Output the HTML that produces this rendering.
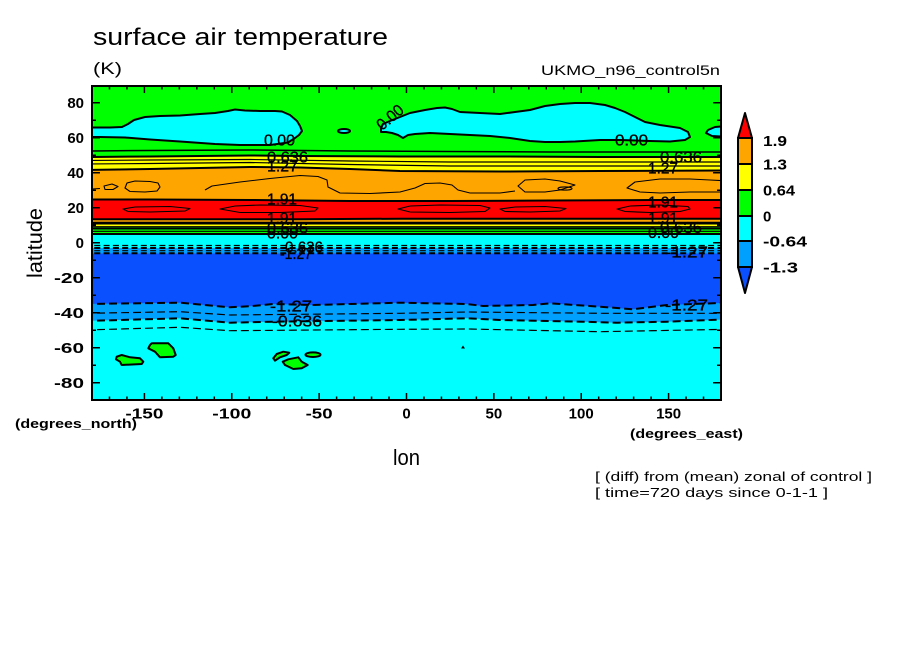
<!DOCTYPE html>
<html><head><meta charset="utf-8"><style>
html,body{margin:0;padding:0;background:#fff;}
svg{display:block;}
text{font-family:"Liberation Sans",sans-serif;fill:#000;}
.t{font-size:15px;font-weight:bold;}
.c{font-size:16px;stroke:#000;stroke-width:0.35px;}
</style></head><body>
<svg width="904" height="654" viewBox="0 0 904 654" xmlns="http://www.w3.org/2000/svg">
<defs><clipPath id="cp"><rect x="92" y="86" width="629" height="314"/></clipPath></defs>

<text x="93" y="45" style="font-size:24px" textLength="295" lengthAdjust="spacingAndGlyphs">surface air temperature</text>
<text x="93" y="74" style="font-size:17px" textLength="29" lengthAdjust="spacingAndGlyphs">(K)</text>
<text x="541" y="75" style="font-size:14px" textLength="179" lengthAdjust="spacingAndGlyphs">UKMO_n96_control5n</text>
<text x="595" y="481" style="font-size:13px" textLength="277" lengthAdjust="spacingAndGlyphs">[ (diff) from (mean) zonal of control ]</text>
<text x="595" y="497" style="font-size:13px" textLength="233" lengthAdjust="spacingAndGlyphs">[ time=720 days since 0-1-1 ]</text>
<text x="15" y="428" style="font-size:13px;font-weight:bold" textLength="122" lengthAdjust="spacingAndGlyphs">(degrees_north)</text>
<text x="630" y="438" style="font-size:13px;font-weight:bold" textLength="113" lengthAdjust="spacingAndGlyphs">(degrees_east)</text>
<text x="393" y="465" style="font-size:22px" textLength="27" lengthAdjust="spacingAndGlyphs">lon</text>
<text x="42" y="278" transform="rotate(-90 42 278)" style="font-size:21px" textLength="70" lengthAdjust="spacingAndGlyphs">latitude</text>

<text class="t" x="84" y="108" text-anchor="end">80</text>
<text class="t" x="84" y="143" text-anchor="end">60</text>
<text class="t" x="84" y="178" text-anchor="end">40</text>
<text class="t" x="84" y="213" text-anchor="end">20</text>
<text class="t" x="84" y="248" text-anchor="end">0</text>
<text class="t" x="54" y="283" textLength="30" lengthAdjust="spacingAndGlyphs">-20</text>
<text class="t" x="54" y="318" textLength="30" lengthAdjust="spacingAndGlyphs">-40</text>
<text class="t" x="54" y="353" textLength="30" lengthAdjust="spacingAndGlyphs">-60</text>
<text class="t" x="54" y="388" textLength="30" lengthAdjust="spacingAndGlyphs">-80</text>

<text class="t" x="125.4" y="418.5" textLength="38" lengthAdjust="spacingAndGlyphs">-150</text>
<text class="t" x="212.3" y="418.5" textLength="39" lengthAdjust="spacingAndGlyphs">-100</text>
<text class="t" x="305.6" y="418.5" textLength="27" lengthAdjust="spacingAndGlyphs">-50</text>
<text class="t" x="406.5" y="418.5" text-anchor="middle">0</text>
<text class="t" x="493.9" y="418.5" text-anchor="middle">50</text>
<text class="t" x="581.2" y="418.5" text-anchor="middle">100</text>
<text class="t" x="668.6" y="418.5" text-anchor="middle">150</text>

<polygon points="745,113 752,138 738,138" fill="#ff0000" stroke="#000" stroke-width="2" stroke-linejoin="round"/>
<rect x="738" y="138" width="14" height="26" fill="#ffa500" stroke="#000" stroke-width="2"/>
<rect x="738" y="164" width="14" height="26" fill="#ffff00" stroke="#000" stroke-width="2"/>
<rect x="738" y="190" width="14" height="26" fill="#00ff00" stroke="#000" stroke-width="2"/>
<rect x="738" y="216" width="14" height="25" fill="#00ffff" stroke="#000" stroke-width="2"/>
<rect x="738" y="241" width="14" height="26" fill="#00a0ff" stroke="#000" stroke-width="2"/>
<polygon points="738,267 752,267 745,293" fill="#0a50ff" stroke="#000" stroke-width="2" stroke-linejoin="round"/>
<text class="t" x="763" y="146" textLength="24" lengthAdjust="spacingAndGlyphs">1.9</text>
<text class="t" x="763" y="169.5" textLength="24" lengthAdjust="spacingAndGlyphs">1.3</text>
<text class="t" x="763" y="195.5" textLength="32" lengthAdjust="spacingAndGlyphs">0.64</text>
<text class="t" x="763" y="221.5">0</text>
<text class="t" x="763" y="246.5" textLength="44" lengthAdjust="spacingAndGlyphs">-0.64</text>
<text class="t" x="763" y="272.5" textLength="35" lengthAdjust="spacingAndGlyphs">-1.3</text>

<g clip-path="url(#cp)">
<rect x="85" y="80" width="650" height="330" fill="#00ffff"/>
<polygon fill="#00a0ff" points="85,80 85,321 180,318.3 230,322.7 273,321.7 400,320 467,318.3 500,320 583,321.7 617,322.7 667,321.7 728,319.3 728,80"/>
<polygon fill="#0a50ff" points="85,80 85,304 180,302.7 230,307.3 253,306 273,304 313,305 400,302.7 467,304 483,306 533,305 550,303.3 600,306.7 633,309.3 667,305 728,302.7 728,80"/>
<rect x="85" y="80" width="650" height="173.5" fill="#00a0ff"/>
<rect x="85" y="80" width="650" height="168" fill="#00ffff"/>
<rect x="85" y="80" width="650" height="154" fill="#00ff00"/>
<rect x="85" y="80" width="650" height="147" fill="#ffff00"/>
<rect x="85" y="80" width="650" height="143" fill="#ffa500"/>
<rect x="85" y="80" width="650" height="139.3" fill="#ff0000"/>
<polygon fill="#ffa500" points="85,80 85,199.5 150,199.5 250,200 350,201 450,201 550,200.5 650,200 728,200 728,80"/>
<polygon fill="#ffff00" points="85,80 85,170 150,169 250,167 300,167.5 350,169 400,171 500,171.5 600,171 728,170.5 728,80"/>
<polygon fill="#00ff00" points="85,80 85,157 150,156.5 250,155.5 300,156 400,156.5 500,156.5 600,157 728,157 728,80"/>

<g fill="#00ffff" stroke="#000" stroke-width="2" stroke-linejoin="round">
<polygon points="85,127.5 110,127.5 122,127 128,124 134,120 145,117 160,116 180,115.5 200,114 215,113 228,111 235,109.5 245,110.5 260,111 275,111 282,111.5 290,115 297,121 300,126 302,131 299,135 295,138 288,142.5 270,145 240,145 215,144 180,141.5 150,139.5 125,137.5 100,137 85,137"/>
<polygon points="381,128 383,124 390,121 400,117 410,113 425,110 437,108 445,107.5 452,109 460,112 480,113 500,114 515,112 530,110 545,106 560,104 575,103 590,103 605,105 615,108 625,112 635,117 645,122 660,125 680,128 688,132 690,137 685,140 670,141.5 650,141 620,140 600,140 575,141.5 560,142 545,142 530,141 510,138 490,136 470,135 450,134 430,133 415,134 408,135 403,138 398,135 392,133 386,132 381,132"/>
<polygon points="728,126 715,127 708,130 706,133 712,136 728,137"/>
<ellipse cx="344" cy="131" rx="6" ry="2"/>
</g>

<g fill="#00ff00" stroke="#000" stroke-width="2" stroke-linejoin="round">
<polygon points="116.7,356.7 121.7,355 130,357.3 140,358.3 143.3,361.7 141.7,364 121.7,365 120,361.7 116,359.3"/>
<polygon points="151.7,343.3 168.3,343.3 173.3,348.3 175.7,355 173.3,356.7 160,357.3 155,351.7 148.3,348.3 150,345"/>
<polygon points="273.3,358.3 276.7,354 283.3,351.7 289.3,352.7 286.7,355 280,357.3 275,360.7"/>
<polygon points="282.7,361.7 288.3,359.3 298.3,357.3 301.7,361.7 307.7,365 301.7,368.3 293.3,369 285,365"/>
<ellipse cx="313" cy="354.7" rx="7.5" ry="2.3"/>
</g>
<polygon points="461,348.5 463,345.5 465,348.5" fill="#000"/>

<g fill="none" stroke="#000" stroke-linejoin="round">
<polyline stroke-width="1.5" points="85,151 150,150.5 250,150 350,151 450,151.5 550,152 650,152 728,152"/>
<polyline stroke-width="2" points="85,157 150,156.5 250,155.5 300,156 400,156.5 500,156.5 600,157 728,157"/>
<polyline stroke-width="1.2" points="85,160.5 150,160 250,159.5 350,161 450,162 550,162 650,162 728,162"/>
<polyline stroke-width="1.2" points="85,164 150,163.5 250,162.5 350,164.5 450,166 550,166 650,166 728,166"/>
<polyline stroke-width="2" points="85,170 150,169 250,167 300,167.5 350,169 400,171 500,171.5 600,171 728,170.5"/>
<polyline stroke-width="2" points="85,199.5 150,199.5 250,200 350,201 450,201 550,200.5 650,200 728,200"/>
<polyline stroke-width="2" points="85,219.3 300,219.3 400,218.7 728,218.7"/>
<polyline stroke-width="1.2" points="85,222.3 728,222.3"/>
<polyline stroke-width="2" points="85,223.5 728,223.5"/>
<polyline stroke-width="1.2" points="85,226.7 728,226.7"/>
<polyline stroke-width="2" points="85,228.5 728,228.5"/>
<polyline stroke-width="1.2" points="85,231.3 728,231.3"/>
<polyline stroke-width="2" points="85,234 728,234"/>
<polygon stroke-width="1.1" points="127,183 135,181 150,181.5 158,183 160,187 157,191 145,192 130,191.5 125,188"/>
<polyline stroke-width="1.1" points="92,189 100,188.5"/>
<polygon stroke-width="1.1" points="104,186 112,184 118,186.5 113,189.5 105,189.5"/>
<polyline stroke-width="1.1" points="205,190 212,186 240,182 270,178.5 300,175.5 318,176.5 327,180 328,187 340,193 370,193.5 400,192 415,188 425,183.5 440,183 452,185 458,190 470,193 500,193 515,191"/>
<polygon stroke-width="1.1" points="518,186 525,180 545,179 560,181 575,185 560,190 545,192 525,192"/>
<ellipse stroke-width="1.1" cx="565" cy="188.5" rx="7" ry="1.6"/>
<polygon stroke-width="1.1" points="627,188 635,182 660,179 690,179 710,180 728,181 728,192 690,192 660,193 640,192"/>
<polygon stroke-width="1.1" points="123,209 135,207 170,206.5 190,208.5 185,211 150,212 128,211.5"/>
<polygon stroke-width="1.1" points="220,209 235,206 260,205 300,205.5 318,208 315,211 280,212.5 240,212.5"/>
<polygon stroke-width="1.1" points="398,209 410,206 440,205 480,205.5 490,208 485,211.5 450,212.5 410,212"/>
<polygon stroke-width="1.1" points="500,209 515,207 545,206.5 566,208.5 560,211 530,212 505,211.5"/>
<polygon stroke-width="1.1" points="617,209 630,206 660,205 688,206.5 690,209 680,211.5 650,212.5 625,211.5"/>
</g>

<g fill="none" stroke="#000">
<polyline stroke-width="1.2" stroke-dasharray="6 3.3" points="85,245.5 728,245.5"/>
<polyline stroke-width="2" stroke-dasharray="6 3.3" points="85,248 728,248"/>
<polyline stroke-width="1.2" stroke-dasharray="6 3.3" points="85,250.7 728,250.7"/>
<polyline stroke-width="2" stroke-dasharray="6 3.3" points="85,253.3 728,253.3"/>
<polyline stroke-width="2" stroke-dasharray="8 4" points="85,304 180,302.7 230,307.3 253,306 273,304 313,305 400,302.7 467,304 483,306 533,305 550,303.3 600,306.7 633,309.3 667,305 728,302.7"/>
<polyline stroke-width="1.2" stroke-dasharray="8 4" points="85,313.3 180,311.7 230,315 400,313.3 467,312 600,313.3 728,313.3"/>
<polyline stroke-width="2" stroke-dasharray="8 4" points="85,321 180,318.3 230,322.7 273,321.7 400,320 467,318.3 500,320 583,321.7 617,322.7 667,321.7 728,319.3"/>
<polyline stroke-width="1.2" stroke-dasharray="8 4" points="85,330 180,327.3 230,330.7 400,329.3 467,329 600,331.7 728,329.3"/>
</g>
</g>

<text class="c" x="264" y="145.5" textLength="31" lengthAdjust="spacingAndGlyphs">0.00</text>
<text class="c" x="267" y="162.5" textLength="41" lengthAdjust="spacingAndGlyphs">0.636</text>
<text class="c" x="267" y="171.5" textLength="31" lengthAdjust="spacingAndGlyphs">1.27</text>
<text class="c" x="267" y="204.5" textLength="30" lengthAdjust="spacingAndGlyphs">1.91</text>
<text class="c" x="267" y="223.5" textLength="30" lengthAdjust="spacingAndGlyphs">1.91</text>
<text class="c" x="267" y="233.5" textLength="41" lengthAdjust="spacingAndGlyphs">0.636</text>
<text class="c" x="267" y="238.5" textLength="31" lengthAdjust="spacingAndGlyphs">0.00</text>
<text class="c" x="280" y="252.5" textLength="43" lengthAdjust="spacingAndGlyphs">-0.636</text>
<text class="c" x="280" y="259" textLength="32" lengthAdjust="spacingAndGlyphs">-1.27</text>
<text class="c" x="270" y="311.5" textLength="42" lengthAdjust="spacingAndGlyphs">-1.27</text>
<text class="c" x="272" y="326.5" textLength="50" lengthAdjust="spacingAndGlyphs">-0.636</text>
<text class="c" x="615" y="145.5" textLength="33" lengthAdjust="spacingAndGlyphs">0.00</text>
<text class="c" x="660" y="162.5" textLength="42" lengthAdjust="spacingAndGlyphs">0.636</text>
<text class="c" x="648" y="173.5" textLength="30" lengthAdjust="spacingAndGlyphs">1.27</text>
<text class="c" x="648" y="207.5" textLength="30" lengthAdjust="spacingAndGlyphs">1.91</text>
<text class="c" x="648" y="223.5" textLength="30" lengthAdjust="spacingAndGlyphs">1.91</text>
<text class="c" x="660" y="233" textLength="42" lengthAdjust="spacingAndGlyphs">0.636</text>
<text class="c" x="648" y="238" textLength="31" lengthAdjust="spacingAndGlyphs">0.00</text>
<text class="c" x="665" y="257.5" textLength="43" lengthAdjust="spacingAndGlyphs">-1.27</text>
<text class="c" x="665" y="310.5" textLength="43" lengthAdjust="spacingAndGlyphs">-1.27</text>
<text class="c" x="382" y="131" transform="rotate(-40 382 131)" textLength="30" lengthAdjust="spacingAndGlyphs">0.00</text>

<rect x="92" y="86" width="629" height="314" fill="none" stroke="#000" stroke-width="2"/>
<path fill="none" stroke="#000" stroke-width="1.5" d="M109.47,86v3.5 M126.94,86v3.5 M144.42,86v7 M161.89,86v3.5 M179.36,86v3.5 M196.83,86v3.5 M214.31,86v3.5 M231.78,86v7 M249.25,86v3.5 M266.72,86v3.5 M284.19,86v3.5 M301.67,86v3.5 M319.14,86v7 M336.61,86v3.5 M354.08,86v3.5 M371.56,86v3.5 M389.03,86v3.5 M406.5,86v7 M423.97,86v3.5 M441.44,86v3.5 M458.92,86v3.5 M476.39,86v3.5 M493.86,86v7 M511.33,86v3.5 M528.81,86v3.5 M546.28,86v3.5 M563.75,86v3.5 M581.22,86v7 M598.69,86v3.5 M616.17,86v3.5 M633.64,86v3.5 M651.11,86v3.5 M668.58,86v7 M686.06,86v3.5 M703.53,86v3.5"/>
<path fill="none" stroke="#000" stroke-width="1.5" d="M109.47,400v-3.5 M126.94,400v-3.5 M144.42,400v-7 M161.89,400v-3.5 M179.36,400v-3.5 M196.83,400v-3.5 M214.31,400v-3.5 M231.78,400v-7 M249.25,400v-3.5 M266.72,400v-3.5 M284.19,400v-3.5 M301.67,400v-3.5 M319.14,400v-7 M336.61,400v-3.5 M354.08,400v-3.5 M371.56,400v-3.5 M389.03,400v-3.5 M406.5,400v-7 M423.97,400v-3.5 M441.44,400v-3.5 M458.92,400v-3.5 M476.39,400v-3.5 M493.86,400v-7 M511.33,400v-3.5 M528.81,400v-3.5 M546.28,400v-3.5 M563.75,400v-3.5 M581.22,400v-7 M598.69,400v-3.5 M616.17,400v-3.5 M633.64,400v-3.5 M651.11,400v-3.5 M668.58,400v-7 M686.06,400v-3.5 M703.53,400v-3.5"/>
<path fill="none" stroke="#000" stroke-width="1.5" d="M92,102.7h8 M92,120.2h4 M92,137.7h8 M92,155.2h4 M92,172.7h8 M92,190.2h4 M92,207.7h8 M92,225.2h4 M92,242.7h8 M92,260.2h4 M92,277.7h8 M92,295.2h4 M92,312.7h8 M92,330.2h4 M92,347.7h8 M92,365.2h4 M92,382.7h8"/>
<path fill="none" stroke="#000" stroke-width="1.5" d="M721,102.7h-8 M721,120.2h-4 M721,137.7h-8 M721,155.2h-4 M721,172.7h-8 M721,190.2h-4 M721,207.7h-8 M721,225.2h-4 M721,242.7h-8 M721,260.2h-4 M721,277.7h-8 M721,295.2h-4 M721,312.7h-8 M721,330.2h-4 M721,347.7h-8 M721,365.2h-4 M721,382.7h-8"/>
</svg>
</body></html>
